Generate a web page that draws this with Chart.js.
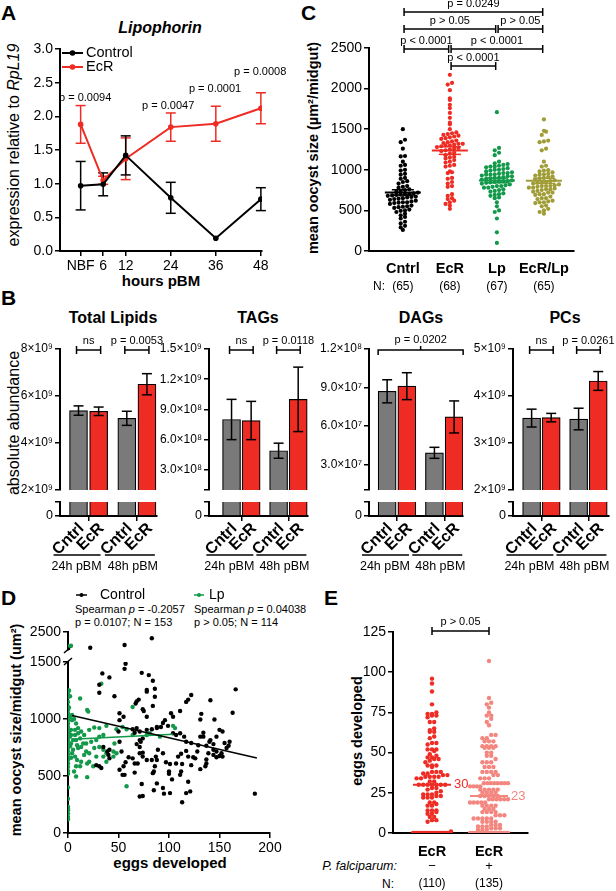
<!DOCTYPE html>
<html>
<head>
<meta charset="utf-8">
<title>Lipophorin / EcR figure</title>
<script src="https://cdn.jsdelivr.net/npm/chart.js@4.4.1/dist/chart.umd.min.js"></script>
<style>
  body { margin: 0; background: #fff; }
  #fig { position: relative; width: 616px; height: 891px; overflow: hidden; background: #fff;
         font-family: "Liberation Sans", Arial, sans-serif; color: #000; }
  #fig canvas { position: absolute; left: 0; top: 0; }
  .t { position: absolute; white-space: nowrap; line-height: 1; }
  .c { transform: translate(-50%, -50%); }
  .v { transform: translate(-50%, -50%) rotate(-90deg); }
  .b { font-weight: bold; }
  .L { font-weight: bold; font-size: 21px; }
  .s { font-size: 11px; }
</style>
</head>
<body>
<div id="fig">
  <div class="t L" style="left:1px;top:2px">A</div>
  <div class="t L" style="left:301px;top:2px">C</div>
  <div class="t L" style="left:1px;top:287px">B</div>
  <div class="t L" style="left:1px;top:587px">D</div>
  <div class="t L" style="left:324px;top:587px">E</div>

  <div class="t c b" style="left:160px;top:28px;font-size:16px;font-style:italic">Lipophorin</div>
  <div class="t v" style="left:14px;top:145px;font-size:16px">expression relative to <i>RpL19</i></div>
  <div class="t c b" style="left:161px;top:280px;font-size:15px">hours pBM</div>

  <div class="t v b" style="left:313px;top:148px;font-size:14.5px">mean oocyst size (µm²/midgut)</div>

  <div class="t c b" style="left:113px;top:318px;font-size:16px">Total Lipids</div>
  <div class="t c b" style="left:258px;top:318px;font-size:16px">TAGs</div>
  <div class="t c b" style="left:421px;top:318px;font-size:16px">DAGs</div>
  <div class="t c b" style="left:565px;top:318px;font-size:16px">PCs</div>
  <div class="t v" style="left:14px;top:423px;font-size:16px">absolute abundance</div>

  <div class="t s" style="left:75px;top:604px">Spearman <i>p</i> = -0.2057</div>
  <div class="t s" style="left:75px;top:617px">p = 0.0107; N = 153</div>
  <div class="t s" style="left:194px;top:604px">Spearman <i>p</i> = 0.04038</div>
  <div class="t s" style="left:194px;top:617px">p &gt; 0.05; N = 114</div>
  <div class="t v b" style="left:16px;top:730px;font-size:14.5px">mean oocyst size/midgut (um²)</div>
  <div class="t c b" style="left:170px;top:862px;font-size:15px">eggs developed</div>

  <div class="t v b" style="left:357px;top:731px;font-size:14.5px">eggs developed</div>
  <div class="t" style="right:219px;top:860px;font-size:12.5px;font-style:italic">P. falciparum:</div>
  <div class="t" style="left:382px;top:878px;font-size:12px">N:</div>
</div>

<script>
const FONT = '"Liberation Sans", Arial, sans-serif';
const W = 616, H = 891;
const BLACK = '#000000', RED = '#ee2c24', GREEN = '#12994a', OLIVE = '#a09c36', GREY = '#7a7a7a', PINK = '#f3877f';

// ---------- A: Lipophorin expression ----------
const hoursA = [0, 6, 12, 24, 36, 48];
const hourLabelsA = ['NBF', '6', '12', '24', '36', '48'];
const ctlExpr = [0.97, 0.99, 1.42, 0.79, 0.19, 0.77];
const ctlSem = [0.36, 0.17, 0.29, 0.23, 0.0, 0.17];
const ecrExpr = [1.88, 1.05, 1.37, 1.84, 1.89, 2.12];
const ecrSem = [0.28, 0.06, 0.31, 0.21, 0.26, 0.23];
const pTextA = ['p = 0.0094', 'p = 0.0047', 'p = 0.0001', 'p = 0.0008'];

// ---------- B: lipid classes ----------
const barLabels = ['Cntrl', 'EcR', 'Cntrl', 'EcR'];
const timeLabels = ['24h pBM', '48h pBM'];
const totalMean = [5.38e9, 5.35e9, 5.05e9, 6.50e9];
const totalSem = [0.20e9, 0.18e9, 0.30e9, 0.45e9];
const tagMean = [0.80e9, 0.79e9, 0.49e9, 1.00e9];
const tagSem = [0.20e9, 0.19e9, 0.075e9, 0.32e9];
const dagMean = [87e6, 91e6, 39e6, 67e6];
const dagSem = [9e6, 10.5e6, 4.3e6, 12.5e6];
const pcMean = [3.53e9, 3.54e9, 3.51e9, 4.32e9];
const pcSem = [0.19e9, 0.09e9, 0.23e9, 0.20e9];
const totalTicks = [2e9, 4e9, 6e9, 8e9];
const totalTickLabels = ['2×10⁹', '4×10⁹', '6×10⁹', '8×10⁹'];
const tagTicks = [1e8, 3e8, 6e8, 9e8, 1.2e9, 1.5e9];
const tagTickLabels = ['', '3.0×10⁸', '6.0×10⁸', '9.0×10⁸', '1.2×10⁹', '1.5×10⁹'];
const dagTicks = [1e7, 3e7, 6e7, 9e7, 1.2e8];
const dagTickLabels = ['', '3.0×10⁷', '6.0×10⁷', '9.0×10⁷', '1.2×10⁸'];
const pcTicks = [2e9, 3e9, 4e9, 5e9];
const pcTickLabels = ['2×10⁹', '3×10⁹', '4×10⁹', '5×10⁹'];
const totalP = ['ns', 'p = 0.0053'];
const tagP = ['ns', 'p = 0.0118'];
const dagP = ['p = 0.0202'];
const pcP = ['ns', 'p = 0.0261'];

// ---------- C: oocyst size ----------
const groupsC = ['Cntrl', 'EcR', 'Lp', 'EcR/Lp'];
const sizeCntrl = [1500,1370,1340,1260,1170,1165,1100,1060,1050,1000,990,950,940,900,890,860,850,830,800,790,
  780,760,750,740,730,720,710,700,700,695,690,685,680,670,665,660,650,645,640,630,620,610,600,600,595,590,580,
  560,550,545,540,530,510,500,495,480,460,440,420,400,360,340,310,290,260];
const sizeEcR = [2170,2070,2050,1980,1880,1860,1800,1760,1700,1640,1580,1560,1500,1460,1450,1440,1430,1420,1410,
  1400,1390,1380,1360,1350,1340,1330,1320,1320,1310,1300,1300,1290,1280,1270,1260,1250,1240,1230,1210,1200,1180,
  1160,1150,1140,1120,1100,1090,1060,1050,1040,980,970,960,900,890,850,830,800,790,700,680,650,640,620,600,580,560,520];
const sizeLp = [1710,1270,1240,1210,1180,1100,1080,1070,1060,1050,1040,1040,1030,1020,1010,1000,1000,990,980,970,
  960,960,950,945,940,940,930,920,920,910,900,900,895,890,880,870,860,860,855,850,845,840,830,820,810,800,800,790,
  780,780,760,750,740,730,710,700,690,680,660,650,600,550,500,480,400,230,100];
const sizeEcRLp = [1620,1480,1470,1430,1360,1350,1340,1260,1240,1100,1050,1040,995,990,980,970,950,945,940,930,
  920,910,900,895,880,870,860,850,845,840,830,820,810,800,800,800,790,780,780,770,760,760,750,740,730,720,720,700,
  700,690,670,650,650,640,620,610,600,600,590,560,550,520,500,480,460];
const bracketsC = [
  { from: 0, to: 3, level: 2943, text: 'p = 0.0249' },
  { from: 0, to: 2, level: 2734, text: 'p > 0.05' },
  { from: 2, to: 3, level: 2734, text: 'p > 0.05' },
  { from: 0, to: 1, level: 2488, text: 'p < 0.0001' },
  { from: 1, to: 3, level: 2488, text: 'p < 0.0001' },
  { from: 1, to: 2, level: 2278, text: 'p < 0.0001' }
];

// ---------- D: oocyst size vs eggs ----------
const ctlEggs = [22,56,83,0,
  31,34,41,31,57,56,46,73,80,84, 86,78,78,68,70,67,74,75,78,86, 84,102,111,117,122,119,141,166,163,145,
  132,131,104,96,94,99,92,88,83,88, 78,71,68,64,66,104,107,111,115,117, 122,129,131,134,137,140,144,147,150,153,
  155,160,159,153,150,147,144,139,137,136, 137,131,124,122,119,117,112,113,109,107, 112,111,119,121,117,113,101,100,100,101,
  97,94,89,87,86,85,84,85,95,88, 83,78,74,72,74,71,68,71,74,71, 69,66,66,64,60,57,55,56,54,51,
  53,51,50,51,55,51,41,39,35,40, 41,31,33,28,73,74,71,103,94,88, 185,126,128,147,152,157,144,141,134];
const ctlSize = [1800,1920,2220,1730,
  1300,1400,1365,1230,1485,1440,1200,1405,1385,1335, 1265,1255,1240,1155,1170,1135,1085,1070,1020,1195,
  1115,1050,1070,1150,1210,1170,1165,1260,1055,995, 1045,995,1020,990,965,940,930,930,910,920,
  905,890,920,910,880,875,860,875,845,800, 790,770,845,880,765,800,780,845,905,890,
  790,800,765,670,675,665,685,700,645,585, 610,560,665,595,670,720,695,605,670,610,
  540,510,450,365,350,270,350,520,540,605, 620,700,730,670,585,540,525,375,345,640,
  640,640,670,800,830,815,780,755,705,700, 610,610,530,655,665,620,585,510,510,555,
  715,800,890,990,1020,1050,730,715,755,685, 655,585,570,595,430,325,320,470,395,435,
  345,655,715,715,700,745,730,815,845];
const lpEggs = [0,3,
  0,0,0,0,0,0,0,0,0,0,0,0,0,0,0,0,0,0,0,0,0,0,0,0,0,0,0,0,0,0,0,0,0,
  12,19,20,33,4,3,7,10,13,16, 21,26,31,38,48,54,58,64,8,12, 15,18,23,28,31,35,10,13,18,21,
  26,31,35,38,45,46,4,7,9,13, 16,19,21,28,12,6,19,58,64,78, 81,91,104,106,45,48,35,38,25,8,
  8,3,2,3,5,7,10,8,2,4, 1,2,1,3,5,2,1,6,9];
const lpSize = [1870,1890,
  120,140,170,200,215,230,300,400,520,545,580,610,640,660,690,720,750,780,810,840,870,900,930,960,990,1020,1050,
  1080,1110,1150,1190,1230,1250,
  1180,1080,1065,1310,990,905,905,875,890,860, 905,925,920,940,910,930,910,1105,815,830,
  785,785,800,815,845,860,745,755,715,700, 745,755,730,700,715,785,700,670,640,625,
  685,610,625,670,585,540,490,410,860,860, 875,845,940,920,670,700,670,625,585,585,
  495,785,845,860,815,860,920,960,1020,1035, 1250,1200,1100,660,730,760,880,1000,770];
const ctlFitEggs = [4, 187];
const ctlFitSize = [1030, 658];
const lpFitEggs = [4, 104];
const lpFitSize = [822, 866];

// ---------- E: eggs developed ----------
const eggsUninf = [96,93,88,80,75,74,74,73,73,72,69,69,65,64,63,63,60,59,56,56,55,52,52,52,51,49,48,47,47,46,46,45,
  44,42,42,42,41,38,38,38,37,37,36,36,35,35,35,35,34,34,32,32, 30,30,30,30,30,30,30,
  28,28,27,26,25,24,24,24,23,23,22,22,22,19,19,18,17,17,14,14,14,13,12,12,10,10,8,8,7,1,
  0,0,0,0,0,0,0,0,0,0,0,0,0,0,0,0,0,0,0,0,0];
const eggsInf = [107,84,81,80,78,75,73,73,71,69,67,61,61,59,59,57,57,57,54,54,54,54,53,53,53,50,50,48,48,46,44,44,44,
  41,41,41,38,38,38,38,36,36,34,34,34,31,31,31,31,31,31,31,31,29,29,29,29,27,27,27,27,27,25,25,25,25,
  23,23,23,23,23,
  21,21,21,21,21,21,19,19,19,19,19,17,17,17,17,15,15,15,13,13,13,13,11,11,11,9,9,9,9,9,7,7,7,7,5,5,5,4,4,4,3,3,3,2,2,2,
  0,0,0,0,0,0,0,0,0,0,0,0,0,0,0,0,0,0];
const infLabels = ['−', '+'];

// ---------- helpers ----------
Chart.defaults.font.family = FONT;
Chart.defaults.color = '#000';

function mk() {
  const c = document.createElement('canvas');
  c.width = W; c.height = H;
  document.getElementById('fig').appendChild(c);
  return c;
}
function pad(l, t, r, b, yw, xh) {
  return { left: l - yw, top: t, right: W - r, bottom: H - b - xh };
}
function opts(padding, scales) {
  return {
    responsive: false, animation: false, devicePixelRatio: 1, events: [],
    layout: { padding },
    plugins: { legend: { display: false }, tooltip: { enabled: false } },
    scales
  };
}
function setTicks(vals) {
  return s => { s.ticks = vals.map(v => ({ value: v })); };
}
function linY(min, max, o = {}) {
  const ticks = { color: '#000', font: { size: o.size || 14 }, padding: 2, autoSkip: false, callback: o.fmt || (v => String(v)) };
  if (o.step) ticks.stepSize = o.step;
  const w = o.w || 44;
  const s = {
    type: 'linear', position: 'left', min, max, beginAtZero: false,
    border: { display: true, color: '#000', width: 2 },
    grid: { drawOnChartArea: false, drawTicks: true, tickLength: 5, color: '#000', lineWidth: 1.5 },
    ticks,
    afterFit: sc => { sc.width = w; }
  };
  if (o.ticks) s.afterBuildTicks = setTicks(o.ticks);
  return s;
}
function linX(min, max, o = {}) {
  if (o.hide) return { type: 'linear', min, max, display: false, offset: false };
  const ticks = {
    color: '#000', font: { size: o.size || 14, weight: o.bold ? 'bold' : 'normal' }, padding: o.tp || 2,
    maxRotation: 0, minRotation: 0, autoSkip: false, callback: o.fmt || (v => String(v))
  };
  if (o.step) ticks.stepSize = o.step;
  const s = {
    type: 'linear', position: 'bottom', min, max, offset: false,
    border: { display: true, color: '#000', width: 2 },
    grid: { drawOnChartArea: false, drawTicks: !!o.marks, tickLength: 5, color: '#000', lineWidth: 1.5, offset: false },
    ticks,
    afterFit: sc => { sc.height = o.h || 30; }
  };
  if (o.ticks) s.afterBuildTicks = setTicks(o.ticks);
  return s;
}
function text(ctx, s, x, y, font, color, align, base) {
  ctx.save();
  ctx.font = font; ctx.fillStyle = color || '#000';
  ctx.textAlign = align || 'center'; ctx.textBaseline = base || 'middle';
  ctx.fillText(s, x, y);
  ctx.restore();
}
function line(ctx, pts, w, color) {
  ctx.save();
  ctx.beginPath(); ctx.lineWidth = w; ctx.strokeStyle = color || '#000';
  pts.forEach((p, i) => i ? ctx.lineTo(p[0], p[1]) : ctx.moveTo(p[0], p[1]));
  ctx.stroke();
  ctx.restore();
}
function dot(ctx, x, y, r, color) {
  ctx.save(); ctx.beginPath(); ctx.arc(x, y, r, 0, Math.PI * 2); ctx.fillStyle = color; ctx.fill(); ctx.restore();
}
function capBracket(ctx, x1, x2, y, label, lift) {
  line(ctx, [[x1, y], [x2, y]], 1.5);
  line(ctx, [[x1, y - 4], [x1, y + 4]], 1.5);
  line(ctx, [[x2, y - 4], [x2, y + 4]], 1.5);
  text(ctx, label, (x1 + x2) / 2, y - lift, '11px ' + FONT);
}
function errBar(ctx, x, yLo, yHi, half, color) {
  line(ctx, [[x, yLo], [x, yHi]], 1.5, color);
  line(ctx, [[x - half, yLo], [x + half, yLo]], 1.5, color);
  line(ctx, [[x - half, yHi], [x + half, yHi]], 1.5, color);
}
// GraphPad-like scatter layout: values in the same row are spread sideways
function swarm(values, bin, step, half) {
  const rows = {};
  values.forEach((v, i) => { const k = Math.round(v / bin); (rows[k] = rows[k] || []).push(i); });
  const off = new Array(values.length).fill(0);
  Object.values(rows).forEach(idx => {
    idx.sort((a, b) => values[a] - values[b]);
    const n = idx.length;
    const s = n > 1 ? Math.min(step, 2 * half / (n - 1)) : 0;
    idx.forEach((i, j) => { off[i] = (j - (n - 1) / 2) * s; });
  });
  return off;
}
const mean = a => a.reduce((s, v) => s + v, 0) / a.length;
const sem = a => { const m = mean(a); return Math.sqrt(a.reduce((s, v) => s + (v - m) ** 2, 0) / (a.length - 1) / a.length); };
const median = a => { const s = [...a].sort((x, y) => x - y); const n = s.length; return n % 2 ? s[(n - 1) / 2] : (s[n / 2 - 1] + s[n / 2]) / 2; };
const xy = (xs, ys) => xs.map((x, i) => ({ x, y: ys[i] }));

// ---------- A ----------
new Chart(mk(), {
  type: 'line',
  data: { datasets: [
    { label: 'Control', data: xy(hoursA, ctlExpr), borderColor: BLACK, backgroundColor: BLACK, borderWidth: 2, pointRadius: 2.8, pointBorderWidth: 0, tension: 0 },
    { label: 'EcR', data: xy(hoursA, ecrExpr), borderColor: RED, backgroundColor: RED, borderWidth: 2, pointRadius: 2.8, pointBorderWidth: 0, tension: 0 }
  ] },
  options: opts(pad(60, 49, 262, 251, 44, 30), {
    x: linX(-5.5, 48.3, { ticks: hoursA, fmt: v => hourLabelsA[hoursA.indexOf(v)], marks: true }),
    y: linY(0, 3, { step: 0.5, fmt: v => v.toFixed(1) })
  }),
  plugins: [{
    id: 'panelA',
    beforeDatasetsDraw(chart) {
      const { ctx, scales: { x, y } } = chart;
      [[ecrExpr, ecrSem, RED], [ctlExpr, ctlSem, BLACK]].forEach(([vals, errs, c]) => {
        vals.forEach((v, i) => {
          if (errs[i] > 0) errBar(ctx, x.getPixelForValue(hoursA[i]), y.getPixelForValue(v - errs[i]), y.getPixelForValue(v + errs[i]), 5, c);
        });
      });
    },
    afterDraw(chart) {
      const { ctx, scales: { x, y } } = chart;
      chart.data.datasets.forEach((ds, i) => {
        const ly = 53 + i * 14;
        line(ctx, [[62, ly], [83, ly]], 2, ds.borderColor);
        dot(ctx, 72.5, ly, 2.8, ds.borderColor);
        text(ctx, ds.label, 86, ly, '14.5px ' + FONT, '#000', 'left');
      });
      const spots = [[1.2, 2.27], [23.3, 2.15], [35.8, 2.41], [47.8, 2.66]];
      pTextA.forEach((s, i) => text(ctx, s, x.getPixelForValue(spots[i][0]), y.getPixelForValue(spots[i][1]), '11px ' + FONT));
    }
  }]
});

// ---------- C ----------
const unitC = (574 - 369) / (3.64 + 0.72);
const seriesC = [[sizeCntrl, BLACK], [sizeEcR, RED], [sizeLp, GREEN], [sizeEcRLp, OLIVE]];
new Chart(mk(), {
  type: 'scatter',
  data: { datasets: seriesC.map(([vals, c], g) => {
    const off = swarm(vals, 50, 4.3 / unitC, 17 / unitC);
    return { data: vals.map((v, i) => ({ x: g + off[i], y: v })), backgroundColor: c, pointRadius: 2.1, pointBorderWidth: 0 };
  }) },
  options: opts(pad(369, 48, 574, 251, 44, 30), {
    x: linX(-0.72, 3.64, { ticks: [0, 1, 2, 3], fmt: v => groupsC[v], bold: true, size: 14.5, tp: 9 }),
    y: linY(0, 2500, { step: 500 })
  }),
  plugins: [{
    id: 'panelC',
    afterDatasetsDraw(chart) {
      const { ctx, scales: { x, y } } = chart;
      seriesC.forEach(([vals, c], g) => {
        const cx = x.getPixelForValue(g), m = mean(vals), e = sem(vals);
        line(ctx, [[cx - 18, y.getPixelForValue(m)], [cx + 18, y.getPixelForValue(m)]], 2, c);
        line(ctx, [[cx - 11, y.getPixelForValue(m + e)], [cx + 11, y.getPixelForValue(m + e)]], 1.5, c);
        line(ctx, [[cx - 11, y.getPixelForValue(m - e)], [cx + 11, y.getPixelForValue(m - e)]], 1.5, c);
      });
      bracketsC.forEach(b => {
        capBracket(ctx, x.getPixelForValue(b.from) + 1.2, x.getPixelForValue(b.to) - 1.2, y.getPixelForValue(b.level), b.text, 8);
      });
      text(ctx, 'N:', 373, 287, '12px ' + FONT, '#000', 'left');
      seriesC.forEach(([vals], g) => text(ctx, '(' + vals.length + ')', x.getPixelForValue(g), 287, '12px ' + FONT));
    }
  }]
});

// ---------- B ----------
const barPos = barLabels.map((_, i) => Math.floor(i / 2) * 2.4 + (i % 2));
const groupPos = timeLabels.map((_, g) => g * 2.4 + 0.5);
const groupLine = [[-35, 12], [-32, 18]];
const groupText = [-12, -4];
const panelsB = [
  { mean: totalMean, sem: totalSem, ticks: totalTicks, labels: totalTickLabels, p: totalP, l: 60, r: 157, xmin: -0.92, xmax: 3.9 },
  { mean: tagMean, sem: tagSem, ticks: tagTicks, labels: tagTickLabels, p: tagP, l: 209, r: 308, xmin: -1.15, xmax: 3.9 },
  { mean: dagMean, sem: dagSem, ticks: dagTicks, labels: dagTickLabels, p: dagP, l: 369, r: 463, xmin: -0.92, xmax: 3.85, span: true },
  { mean: pcMean, sem: pcSem, ticks: pcTicks, labels: pcTickLabels, p: pcP, l: 513, r: 609, xmin: -0.95, xmax: 3.95 }
];
panelsB.forEach(p => {
  const yMin = p.ticks[0], yMax = p.ticks[p.ticks.length - 1];
  const barSet = () => ({
    data: barPos.map((x, i) => ({ x, y: p.mean[i] })),
    backgroundColor: barLabels.map((_, i) => i % 2 ? RED : GREY),
    borderColor: BLACK, borderWidth: 1.2, barThickness: 18, borderSkipped: 'start', clip: 0
  });
  new Chart(mk(), {
    type: 'bar',
    data: { datasets: [barSet()] },
    options: opts(pad(p.l, 349, p.r, 490, 58, 0), {
      x: linX(p.xmin, p.xmax, { hide: true }),
      y: linY(yMin, yMax, { ticks: p.ticks, fmt: v => p.labels[p.ticks.indexOf(v)], size: 12, w: 58 })
    }),
    plugins: [{
      id: 'bUpper',
      afterDatasetsDraw(chart) {
        const { ctx, chartArea, scales: { x, y } } = chart;
        p.mean.forEach((m, i) => {
          errBar(ctx, x.getPixelForValue(barPos[i]), y.getPixelForValue(m - p.sem[i]), y.getPixelForValue(m + p.sem[i]), 5, BLACK);
        });
        const top = chartArea.top + 1;
        if (p.span) {
          const x1 = x.getPixelForValue(barPos[0]) - 9, x2 = x.getPixelForValue(barPos[3]) + 9, xm = (x1 + x2) / 2;
          line(ctx, [[x1, top + 5], [x1, top], [x2, top], [x2, top + 5]], 1.5);
          line(ctx, [[xm, top], [xm, top - 4]], 1.5);
          text(ctx, p.p[0], xm, top - 10, '11px ' + FONT);
        } else {
          p.p.forEach((s, g) => {
            capBracket(ctx, x.getPixelForValue(barPos[2 * g]) - 2, x.getPixelForValue(barPos[2 * g + 1]) + 2, top, s, 9);
          });
        }
      }
    }]
  });
  new Chart(mk(), {
    type: 'bar',
    data: { datasets: [barSet()] },
    options: opts(pad(p.l, 502, p.r, 516, 58, 10), {
      x: linX(p.xmin, p.xmax, { ticks: groupPos, fmt: () => '', marks: true, h: 10 }),
      y: linY(0, yMin, { ticks: [0, yMin], fmt: v => v ? '' : '0', size: 12.5, w: 58 })
    }),
    plugins: [{
      id: 'bLower',
      afterDraw(chart) {
        const { ctx, scales: { x } } = chart;
        barLabels.forEach((s, i) => {
          ctx.save();
          ctx.translate(x.getPixelForValue(barPos[i]) + 3, 526);
          ctx.rotate(-Math.PI / 4);
          ctx.font = 'bold 16px ' + FONT; ctx.fillStyle = '#000';
          ctx.textAlign = 'right'; ctx.textBaseline = 'middle';
          ctx.fillText(s, 0, 0);
          ctx.restore();
        });
        timeLabels.forEach((s, g) => {
          const xc = x.getPixelForValue(groupPos[g]);
          line(ctx, [[xc + groupLine[g][0], 555], [xc + groupLine[g][1], 555]], 1.5);
          text(ctx, s, xc + groupText[g], 567, '12.5px ' + FONT);
        });
      }
    }]
  });
});

// ---------- D ----------
const BREAK = 1600;
const lowPts = (ex, sz) => xy(ex, sz).filter(p => p.y <= BREAK);
const highPts = (ex, sz) => xy(ex, sz).filter(p => p.y > BREAK);
new Chart(mk(), {
  type: 'scatter',
  data: { datasets: [
    { data: xy(ctlFitEggs, ctlFitSize), showLine: true, borderColor: BLACK, borderWidth: 1.5, pointRadius: 0 },
    { data: xy(lpFitEggs, lpFitSize), showLine: true, borderColor: GREEN, borderWidth: 1.5, pointRadius: 0 },
    { label: 'Control', data: lowPts(ctlEggs, ctlSize), backgroundColor: BLACK, pointRadius: 2.2, pointBorderWidth: 0 },
    { label: 'Lp', data: lowPts(lpEggs, lpSize), backgroundColor: GREEN, pointRadius: 2.2, pointBorderWidth: 0 }
  ] },
  options: opts(pad(68, 662, 270, 833, 44, 30), {
    x: linX(0, 200, { step: 50, marks: true }),
    y: linY(0, 1500, { step: 500 })
  }),
  plugins: [{
    id: 'panelD',
    afterDraw(chart) {
      const { ctx } = chart;
      [[2, 76, 87, 100], [3, 194, 204, 209]].forEach(([i, x1, x2, tx]) => {
        const ds = chart.data.datasets[i];
        line(ctx, [[x1, 595], [x2, 595]], 1.5, ds.backgroundColor);
        dot(ctx, (x1 + x2) / 2, 595, 2, ds.backgroundColor);
        text(ctx, ds.label, tx, 595, '14px ' + FONT, '#000', 'left');
      });
      line(ctx, [[64, 653], [72, 646]], 1.5);
      line(ctx, [[64, 665], [72, 658]], 1.5);
    }
  }]
});
new Chart(mk(), {
  type: 'scatter',
  data: { datasets: [
    { data: highPts(ctlEggs, ctlSize), backgroundColor: BLACK, pointRadius: 2.2, pointBorderWidth: 0 },
    { data: highPts(lpEggs, lpSize), backgroundColor: GREEN, pointRadius: 2.2, pointBorderWidth: 0 }
  ] },
  options: opts(pad(68, 632, 270, 650, 44, 0), {
    x: linX(0, 200, { hide: true }),
    y: linY(1700, 2500, { ticks: [2500] })
  })
});

// ---------- E ----------
const unitE = (528 - 393) / (0.684 + 1.684);
const seriesE = [[eggsUninf, RED], [eggsInf, PINK]];
new Chart(mk(), {
  type: 'scatter',
  data: { datasets: seriesE.map(([vals, c], g) => {
    const off = swarm(vals, 2.5, 4.4 / unitE, 19 / unitE);
    return { data: vals.map((v, i) => ({ x: g + off[i], y: v })), backgroundColor: c, pointRadius: 2.2, pointBorderWidth: 0 };
  }) },
  options: opts(pad(393, 632, 528, 833, 44, 30), {
    x: linX(-0.684, 1.684, { ticks: [0, 1], fmt: () => 'EcR', bold: true, size: 14.5, tp: 10 }),
    y: linY(0, 125, { step: 25 })
  }),
  plugins: [{
    id: 'panelE',
    afterDatasetsDraw(chart) {
      const { ctx, chartArea, scales: { x, y } } = chart;
      seriesE.forEach(([vals, c], g) => {
        const cx = x.getPixelForValue(g), md = median(vals), py = y.getPixelForValue(md);
        line(ctx, [[cx - 19, py], [cx + 19, py]], 2, c);
        text(ctx, String(md), cx + 22, py, '13px ' + FONT, c, 'left');
        text(ctx, infLabels[g], cx, 866, '13px ' + FONT);
        text(ctx, '(' + vals.length + ')', cx, 884, '12px ' + FONT);
      });
      capBracket(ctx, x.getPixelForValue(0), x.getPixelForValue(1), chartArea.top - 1, 'p > 0.05', 9);
    }
  }]
});
</script>
</body>
</html>
